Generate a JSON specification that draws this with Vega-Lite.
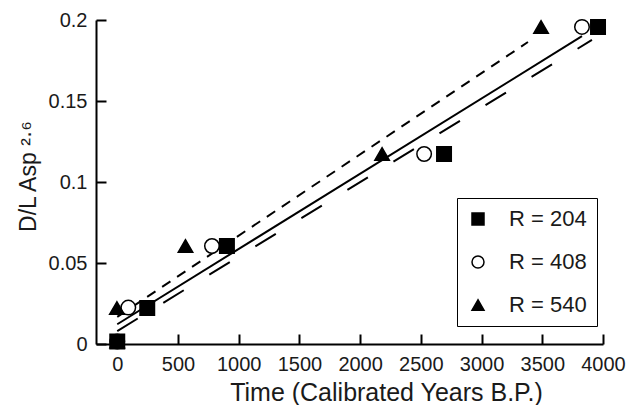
{
  "$schema": "https://vega.github.io/schema/vega-lite/v6.json",
  "autosize": {"type": "none"},
  "padding": {"left": 96, "top": 20, "right": 35, "bottom": 61},
  "width": 507,
  "height": 324,
  "config": {
    "view": {"stroke": "transparent"},
    "legend": {
      "orient": "none",
      "legendX": 361,
      "legendY": 178,
      "strokeColor": "black",
      "fillColor": "white",
      "padding": 10,
      "rowPadding": 21,
      "symbolSize": 144,
      "symbolStrokeWidth": 1.5,
      "labelOffset": 20,
      "labelFontSize": 22,
      "labelFont": "Liberation Sans",
      "labelColor": "#1a1a1a"
    }
  },
  "data": {
    "values": [
      {"kind": "pt", "series": "R = 408", "t": 0, "v": 0.0015},
      {"kind": "pt", "series": "R = 408", "t": 91, "v": 0.0225},
      {"kind": "pt", "series": "R = 408", "t": 780, "v": 0.0605},
      {"kind": "pt", "series": "R = 408", "t": 2527, "v": 0.1173},
      {"kind": "pt", "series": "R = 408", "t": 3827, "v": 0.1957},
      {"kind": "pt", "series": "R = 204", "t": 0, "v": 0.0015},
      {"kind": "pt", "series": "R = 204", "t": 247, "v": 0.0222},
      {"kind": "pt", "series": "R = 204", "t": 903, "v": 0.0605},
      {"kind": "pt", "series": "R = 204", "t": 2691, "v": 0.1173},
      {"kind": "pt", "series": "R = 204", "t": 3959, "v": 0.1957},
      {"kind": "pt", "series": "R = 540", "t": 0, "v": 0.0015},
      {"kind": "pt", "series": "R = 540", "t": -3, "v": 0.0222},
      {"kind": "pt", "series": "R = 540", "t": 562, "v": 0.0605},
      {"kind": "pt", "series": "R = 540", "t": 2181, "v": 0.1173},
      {"kind": "pt", "series": "R = 540", "t": 3490, "v": 0.1957},
      {"kind": "fit", "series": "R = 408", "t": 0, "v": 0.0122},
      {"kind": "fit", "series": "R = 408", "t": 3827, "v": 0.19},
      {"kind": "fit", "series": "R = 204", "t": 0, "v": 0.008},
      {"kind": "fit", "series": "R = 204", "t": 3909, "v": 0.1877},
      {"kind": "fit", "series": "R = 540", "t": 0, "v": 0.0167},
      {"kind": "fit", "series": "R = 540", "t": 3382, "v": 0.1864}
    ]
  },
  "encoding": {
    "x": {
      "field": "t",
      "type": "quantitative",
      "scale": {"domain": [-175, 4000], "nice": false, "zero": false},
      "axis": {
        "grid": true,
        "gridOpacity": 0,
        "zindex": 1,
        "title": "Time (Calibrated Years B.P.)",
        "titleFont": "Liberation Sans",
        "titleFontWeight": "normal",
        "titleColor": "#1a1a1a",
        "titleFontSize": 25,
        "titleX": 290,
        "titleY": 56,
        "titleAlign": "center",
        "titleBaseline": "alphabetic",
        "tickCount": 9,
        "format": "d",
        "labelFont": "Liberation Sans",
        "labelFontSize": 20,
        "labelColor": "#1a1a1a",
        "labelOverlap": false,
        "labelFlush": false,
        "domainColor": "black",
        "domainWidth": 2,
        "ticks": true,
        "tickColor": "black",
        "tickOpacity": 1,
        "tickWidth": 2,
        "tickSize": -10,
        "labelPadding": 20
      }
    },
    "y": {
      "field": "v",
      "type": "quantitative",
      "scale": {"domain": [0, 0.2], "nice": false},
      "axis": {
        "grid": true,
        "gridOpacity": 0,
        "zindex": 1,
        "title": "D/L Asp ²·⁶",
        "titleFont": "Liberation Sans",
        "titleFontWeight": "normal",
        "titleColor": "#1a1a1a",
        "titleFontSize": 23,
        "titleAngle": -90,
        "titleX": -61,
        "titleY": 156,
        "titleAlign": "center",
        "titleBaseline": "alphabetic",
        "tickCount": 4,
        "format": ".2~f",
        "labelFont": "Liberation Sans",
        "labelFontSize": 20,
        "labelColor": "#1a1a1a",
        "labelFlush": false,
        "domainColor": "black",
        "domainWidth": 2,
        "ticks": true,
        "tickColor": "black",
        "tickOpacity": 1,
        "tickWidth": 2,
        "tickSize": -10,
        "labelPadding": 19
      }
    }
  },
  "layer": [
    {
      "transform": [{"filter": "datum.kind == 'fit' && datum.series == 'R = 204'"}],
      "mark": {"type": "line", "stroke": "black", "strokeWidth": 2, "strokeDash": [24, 30]},
      "encoding": {}
    },
    {
      "transform": [{"filter": "datum.kind == 'fit' && datum.series == 'R = 408'"}],
      "mark": {"type": "line", "stroke": "black", "strokeWidth": 2},
      "encoding": {}
    },
    {
      "transform": [{"filter": "datum.kind == 'fit' && datum.series == 'R = 540'"}],
      "mark": {"type": "line", "stroke": "black", "strokeWidth": 2, "strokeDash": [10, 8]},
      "encoding": {}
    },
    {
      "transform": [{"filter": "datum.kind == 'pt'"}],
      "mark": {"type": "point", "stroke": "black", "strokeWidth": 1.5, "opacity": 1, "size": 210},
      "encoding": {
        "shape": {
          "field": "series",
          "type": "nominal",
          "title": null,
          "scale": {"domain": ["R = 204", "R = 408", "R = 540"], "range": ["square", "circle", "triangle-up"]}
        },
        "fill": {
          "field": "series",
          "type": "nominal",
          "title": null,
          "scale": {"domain": ["R = 204", "R = 408", "R = 540"], "range": ["black", "white", "black"]}
        }
      }
    }
  ]
}
